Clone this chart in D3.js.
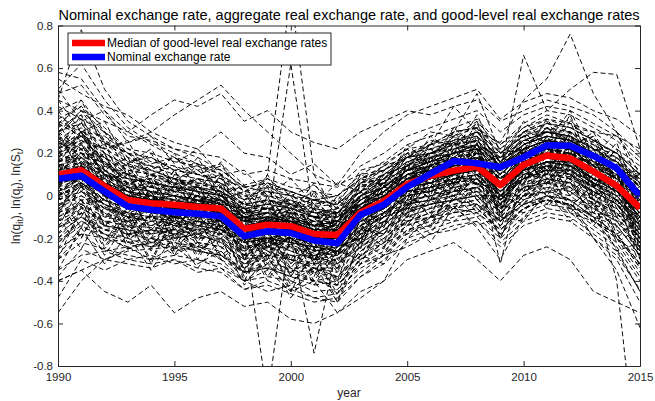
<!DOCTYPE html>
<html>
<head>
<meta charset="utf-8">
<script src="https://cdn.jsdelivr.net/npm/d3@7"></script>
<style>
  body { margin: 0; background: #fff; }
  text { font-family: "Liberation Sans", Arial, Helvetica, sans-serif; fill: #262626; }
</style>
</head>
<body>
<svg id="chart" width="655" height="401"></svg>
<script>
// Years on the horizontal axis
const years = [1990,1991,1992,1993,1994,1995,1996,1997,1998,1999,2000,2001,2002,
               2003,2004,2005,2006,2007,2008,2009,2010,2011,2012,2013,2014,2015];

// Median of the good-level real exchange rates (log)
const medianRer = [.10,.12,.045,-.02,-.035,-.042,-.053,-.06,-.155,-.136,-.143,-.18,-.185,
                   -.078,-.025,.055,.094,.118,.137,.05,.145,.189,.176,.114,.047,-.058];

// Nominal exchange rate (log)
const nominalRate = [.08,.094,.02,-.05,-.066,-.078,-.085,-.097,-.19,-.167,-.175,-.21,-.223,
                     -.089,-.042,.041,.103,.163,.153,.134,.181,.237,.235,.187,.13,-.003];

// Good-level real exchange rates (log), one row per good
const goodRer = [
  [.22,.28,.15,.08,.06,.04,.02,.00,-.08,-.06,-.07,-.12,-.10,-.02,.04,.12,.16,.18,.22,.12,.22,.26,.25,.18,.12,.02],
  [-.02,.04,-.04,-.10,-.12,-.13,-.14,-.16,-.24,-.22,-.23,-.27,-.28,-.18,-.12,-.03,.00,.04,.06,-.04,.06,.10,.09,.02,-.04,-.16],
  [.18,.25,.10,.05,-.06,.02,-.10,.00,-.12,-.20,-.08,-.25,-.12,-.02,.04,.02,.15,.10,.20,.00,.12,.25,.15,.18,.00,-.10],
  [.02,.08,-.02,-.08,-.05,-.12,-.08,-.14,-.20,-.22,-.18,-.24,-.26,-.15,-.10,.00,.02,.08,.06,-.02,.10,.12,.14,.05,.00,-.15],
  [.40,.45,.30,.20,.18,.12,.10,.08,-.02,.04,.00,-.05,-.04,.06,.10,.18,.20,.25,.30,.20,.28,.32,.30,.25,.20,.10],
  [-.20,-.12,-.18,-.22,-.20,-.25,-.22,-.24,-.32,-.30,-.35,-.36,-.38,-.28,-.22,-.12,-.08,-.05,-.04,-.12,-.02,.02,.00,-.08,-.14,-.28],
  [.12,.18,.08,.02,.00,-.02,.00,-.04,-.10,-.12,-.08,-.14,-.12,-.04,.02,.10,.12,.16,.18,.08,.18,.22,.20,.15,.10,.00],
  [.05,.10,.00,-.04,-.08,-.06,-.10,-.08,-.18,-.16,-.20,-.22,-.20,-.10,-.06,.04,.06,.10,.12,.02,.12,.16,.16,.08,.02,-.08],
  [.25,.20,.15,.10,.06,.04,.02,-.02,-.10,-.08,-.10,-.14,-.15,-.06,.00,.08,.14,.16,.20,.10,.20,.24,.22,.16,.10,.02],
  [-.05,.02,-.04,-.10,-.12,-.10,-.14,-.12,-.22,-.24,-.20,-.26,-.28,-.18,-.12,-.02,.00,.04,.06,-.04,.06,.10,.08,.02,-.04,-.18],
  [-.55,-.40,-.30,-.25,-.22,-.20,-.18,-.16,-.25,-.22,-.24,-.28,-.26,-.16,-.10,.00,.02,.06,.08,-.02,.08,.12,.10,.04,-.04,-.20],
  [.50,.62,.45,.32,.25,.20,.15,.10,.02,.00,-.02,-.06,-.08,.00,.04,.12,.16,.20,.24,.14,.22,.26,.24,.18,.12,.02],
  [.15,.10,.05,.00,.02,-.02,-.04,-.06,-.12,-.10,-.12,-.16,-.16,-.06,.00,.08,.10,.12,.16,.06,.16,.20,.18,.10,.06,-.04],
  [-.12,-.06,-.12,-.14,-.15,-.16,-.15,-.18,-.24,-.25,-.24,-.30,-.28,-.20,-.14,-.04,-.02,.02,.04,-.05,.05,.08,.06,.00,-.06,-.18],
  [.32,.38,.25,.18,.14,.12,.10,.08,.00,.02,.00,-.04,-.02,.08,.12,.20,.22,.26,.28,.18,.26,.30,.28,.22,.16,.06],
  [.08,.12,.02,-.04,-.06,-.05,-.08,-.10,-.20,-.95,-.15,-.22,-.20,-.10,-.04,.04,.08,.12,.14,.04,.14,.18,.16,.10,.04,-.08],
  [.00,.05,-.02,-.06,-.08,-.10,-.08,-.12,-.16,-.12,.62,-.10,-.18,-.08,-.04,.06,.08,.10,.14,.04,.12,.16,.14,.08,.02,-.10],
  [.10,.14,.06,.00,-.02,-.04,-.06,-.08,-.18,-.22,-.20,-.74,-.24,-.12,-.06,.04,.06,.10,.12,.02,.12,.16,.14,.08,.02,-.10],
  [.06,.10,.02,-.02,-.04,-.06,-.06,-.08,-.16,-.14,-.16,-.20,-.18,-.06,.00,.10,.14,.20,.30,.25,.45,.55,.76,.48,.30,.10],
  [.14,.18,.10,.04,.02,.00,-.02,-.02,-.10,-.08,-.10,-.14,-.12,.00,.06,.14,.20,.26,.34,.12,.66,.40,.50,.58,.57,.22],
  [.45,.78,.50,.35,.28,.22,.18,.12,.04,.06,.02,-.02,.00,.08,.12,.20,.24,.28,.32,.20,.30,.34,.30,.24,.18,.08],
  [-.30,-.22,-.25,-.28,-.30,-.28,-.30,-.32,-.40,-.38,-.40,-.45,-.44,-.34,-.28,-.18,-.14,-.10,-.08,-.18,-.08,-.04,-.06,-.14,-.22,-.38],
  [.20,.15,.12,.06,.08,.02,.04,-.02,-.06,-.10,-.04,-.10,-.14,-.02,.02,.10,.14,.18,.16,.08,.18,.20,.22,.14,.08,-.02],
  [-.08,-.02,-.08,-.12,-.10,-.14,-.16,-.14,-.26,-.20,-.22,-.24,-.26,-.16,-.10,.02,.04,.06,.10,.00,.08,.14,.12,.06,-.02,-.14],
  [.20,.26,.22,.25,.30,.38,.45,.52,.40,.30,.20,.10,.05,.10,.12,.18,.22,.25,.28,.18,.26,.30,.28,.22,.16,.06],
  [.30,.22,.18,.12,.10,.05,.08,.02,-.04,-.02,-.06,-.08,-.10,.00,.04,.12,.16,.20,.22,.14,.22,.26,.24,.20,.14,.04],
  [-.10,-.05,-.14,-.18,-.20,-.22,-.24,-.26,-.36,-.34,-.38,-.42,-.40,-.30,-.24,-.14,-.10,-.06,-.04,-.14,-.06,-.02,-.04,-.12,-.18,-.32],
  [.08,.14,.06,.02,-.02,-.04,-.04,-.06,-.14,-.12,-.14,-.18,-.16,-.08,-.02,.06,.10,.14,.16,.06,.16,.20,.18,.12,.06,-.06],
  [.00,.06,-.02,-.06,-.06,-.08,-.10,-.10,-.18,-.18,-.18,-.22,-.22,-.12,-.06,.02,.06,.08,.10,.00,.10,.14,.14,.06,.00,-.12],
  [.35,.30,.28,.20,.15,.18,.12,.15,.05,.08,.04,.02,.00,.10,.16,.24,.28,.32,.36,.24,.32,.36,.34,.26,.20,.12],
  [.10,.16,.06,.00,-.02,-.02,-.04,-.04,-.12,-.10,-.12,-.16,-.14,-.04,.02,.12,.18,.30,.48,.20,.28,.30,.26,.18,.10,-.02],
  [-.18,-.10,-.16,-.18,-.16,-.18,-.20,-.20,-.28,-.28,-.28,-.32,-.32,-.22,-.16,-.06,-.04,.00,.02,-.08,.02,.06,.04,-.04,-.10,-.22],
  [.04,.12,.04,-.02,-.02,-.06,-.06,-.10,-.16,-.16,-.16,-.20,-.20,-.10,-.04,.06,.08,.12,.14,.04,.14,.18,.18,.10,.04,-.06],
  [.26,.34,.20,.12,.10,.06,.04,.02,-.06,-.04,-.06,-.10,-.10,.00,.06,.14,.16,.20,.22,.12,.22,.26,.24,.18,.12,.02],
  [.02,.08,.00,-.04,-.06,-.06,-.08,-.08,-.16,-.14,-.16,-.20,-.20,-.08,-.02,.06,.10,.14,.16,-.32,.12,.16,.14,.08,.02,-.10],
  [-.35,-.28,-.26,-.30,-.32,-.30,-.34,-.36,-.44,-.42,-.46,-.50,-.48,-.38,-.32,-.22,-.18,-.14,-.12,-.22,-.12,-.08,-.10,-.18,-.26,-.45],
  [.16,.22,.12,.06,.04,.02,.00,-.02,-.08,-.08,-.08,-.12,-.12,-.02,.04,.12,.14,.18,.20,.10,.20,.24,.22,.16,.10,-.02],
  [.10,.06,.02,-.04,.00,-.06,-.04,-.08,-.14,-.16,-.12,-.18,-.16,-.06,-.02,.08,.10,.14,.16,.06,.18,.20,.20,.12,.06,-.04],
  [.06,.10,.02,-.02,-.04,-.06,-.08,-.08,-.16,-.16,-.16,-.20,-.20,-.12,-.08,-.02,.00,.02,.04,-.06,.00,.02,-.02,-.20,-.35,-.62],
  [.12,.16,.08,.02,.00,-.02,-.02,-.04,-.12,-.10,-.12,-.16,-.16,-.06,.00,.08,.10,.12,.14,.04,.12,.14,.10,.00,-.40,-1.40],
  [.28,.40,.25,.15,.12,.08,.05,.04,-.04,-.02,-.04,-.08,-.08,.02,.08,.16,.20,.24,.26,.16,.24,.28,.26,.20,.14,.04],
  [-.15,-.08,-.14,-.16,-.18,-.16,-.18,-.22,-.30,-.28,-.30,-.34,-.36,-.24,-.18,-.08,-.04,-.02,.00,-.10,.00,.04,.02,-.06,-.12,-.26],
  [.05,.10,.02,-.02,-.04,-.04,-.06,-.06,-.12,.10,.95,.10,-.10,-.04,.00,.08,.12,.14,.16,.06,.16,.20,.18,.12,.06,-.04],
  [.18,.24,.14,.08,.06,.04,.02,.00,-.10,-.06,-.10,-.12,-.14,-.04,.02,.10,.12,.16,.20,.08,.18,.22,.20,.14,.08,-.04],
  [-.04,.00,-.06,-.12,-.10,-.14,-.12,-.16,-.22,-.20,-.22,-.26,-.24,-.14,-.08,.02,.04,.08,.10,-.02,.08,.12,.12,.04,-.02,-.14],
  [-.48,-.30,-.35,-.30,-.28,-.32,-.30,-.34,-.40,-.45,-.42,-.48,-.50,-.38,-.30,-.20,-.16,-.12,-.10,-.20,-.10,-.06,-.08,-.16,-.24,-.40],
  [.36,.42,.32,.22,.20,.16,.14,.10,.02,.04,.02,-.02,.00,.08,.14,.22,.24,.30,.32,.22,.30,.34,.32,.26,.20,.10],
  [.00,.04,-.04,-.08,-.10,-.08,-.12,-.12,-.20,-.18,-.22,-.24,-.24,-.14,-.08,.00,.04,.08,.08,-.02,.08,.12,.12,.04,-.02,-.12],
  [.14,.20,.10,.04,.02,.00,-.02,-.04,-.12,-.10,-.12,-.16,-.14,-.04,.02,.10,.12,.16,.18,.08,.18,.22,.22,.14,.08,-.02],
  [.08,.12,.04,.00,-.02,-.04,-.04,-.06,-.14,-.12,-.12,-.16,-.16,-.04,.04,.14,.24,.42,.30,.16,.24,.28,.26,.20,.12,.00],
  [-.25,-.18,-.20,-.24,-.22,-.26,-.24,-.28,-.36,-.32,-.34,-.40,-.38,-.28,-.20,-.10,-.06,-.04,-.02,-.12,-.04,.00,-.02,-.10,-.18,-.34],
  [.22,.30,.18,.10,.08,.06,.06,.02,-.06,-.04,-.06,-.10,-.08,.02,.08,.16,.18,.22,.24,.14,.24,.28,.26,.20,.14,.06],
  [.06,.08,.00,-.06,-.08,-.10,-.10,-.12,-.20,-.20,-.18,-.24,-.22,-.12,-.06,.04,.06,.10,.12,.00,.10,.14,.12,.06,.00,-.12],
  [.12,.18,.06,.02,-.02,.00,-.04,-.02,-.10,-.14,-.10,-.14,-.16,-.06,.00,.08,.12,.14,.18,.06,.16,.20,.18,.12,.06,-.06],
  [.04,.08,.00,-.04,-.06,-.08,-.08,-.10,-.18,-.16,-.18,-.22,-.22,-.10,-.06,.02,.04,.08,.10,.00,.08,.10,.06,-.10,-.25,-.45],
  [-.08,-.04,-.10,-.12,-.14,-.14,-.16,-.16,-.24,-.22,-.26,-.30,-.30,-.20,-.14,-.04,-.02,.02,.04,-.06,.04,.08,.06,-.02,-.08,-.20],
  [.58,.55,.40,.30,.24,.18,.15,.12,.04,.06,.02,-.02,-.04,.04,.10,.18,.20,.24,.26,.16,.24,.28,.26,.20,.14,.04],
  [.16,.20,.12,.04,.04,.02,.00,-.02,-.10,-.08,-.12,-.14,-.12,-.02,.04,.10,.14,.18,.20,.10,.20,.24,.22,.14,.10,.00],
  [-.02,.02,-.06,-.10,-.10,-.12,-.12,-.14,-.20,-.20,-.20,-.26,-.24,-.14,-.08,.00,.02,.06,.08,-.02,.08,.12,.10,.02,-.04,-.16],
  [.10,.14,.06,.00,-.02,-.04,-.04,-.06,-.14,-.12,-.12,-.18,-.16,-.06,.02,.12,.16,.20,.24,.18,.30,.36,.32,.30,.28,.22],
  [.24,.28,.20,.14,.10,.08,.06,.04,-.04,-.02,-.04,-.08,-.08,.02,.06,.14,.18,.20,.22,.12,.22,.26,.24,.18,.12,.00],
  [-.40,-.35,-.30,-.26,-.25,-.24,-.26,-.28,-.34,-.34,-.36,-.40,-.42,-.32,-.26,-.16,-.12,-.08,-.06,-.16,-.06,-.02,-.04,-.12,-.20,-.36],
  [.02,.06,-.02,-.06,-.04,-.08,-.08,-.10,-.18,-.16,-.18,-.22,-.22,-.10,-.04,.04,.08,.10,.12,.02,.12,.16,.14,.08,.02,-.08],
  [.10,.14,.06,.02,.00,-.04,-.02,-.06,-.12,-.12,-.14,-.18,-.18,-.08,-.02,.06,.10,.12,.14,.04,.14,.18,.18,.10,.06,-.06],
  [.30,.10,.20,-.05,.08,-.12,.06,-.15,-.05,-.25,-.10,-.30,-.15,-.20,.05,-.05,.18,.05,.25,-.05,.20,.10,.28,.05,.15,-.20],
  [-.10,.15,-.15,.05,-.20,.00,-.18,.02,-.30,-.10,-.32,-.15,-.35,-.05,-.15,.10,-.02,.20,.05,.10,.05,.25,.08,.20,-.10,.05],
  [.20,.35,.05,.12,-.10,.10,-.12,.05,-.22,.00,-.25,-.05,-.30,.02,-.10,.15,.00,.25,.10,-.08,.22,.10,.30,.00,.12,-.30],
  [.00,-.15,.10,-.20,.02,-.25,-.05,-.20,-.10,-.35,-.15,-.38,-.12,-.25,.00,-.10,.15,.02,.22,-.12,.18,.05,.22,-.05,.10,-.25],
  [.45,.30,.35,.15,.22,.05,.18,.00,.05,-.12,.02,-.15,.00,-.08,.12,.05,.25,.15,.35,.10,.30,.20,.38,.12,.25,-.05],
  [-.30,-.05,-.25,-.10,-.32,-.08,-.30,-.12,-.40,-.20,-.45,-.25,-.50,-.20,-.25,-.05,-.15,.05,-.08,.00,-.05,.12,-.05,.05,-.20,-.10],
  [.25,.20,.18,.05,.10,.02,.08,.06,-.08,-.02,-.06,-.04,-.12,.05,.06,.18,.16,.25,.20,.18,.22,.32,.26,.24,.12,.08],
  [-.05,.05,-.10,-.08,-.16,-.12,-.18,-.12,-.28,-.20,-.26,-.30,-.24,-.20,-.10,-.06,.02,.00,.08,-.08,.04,.06,.12,-.02,-.06,-.20],
  [.12,.04,.08,-.06,.02,-.10,.00,-.12,-.10,-.22,-.12,-.24,-.16,-.12,.02,.02,.14,.06,.18,.00,.20,.14,.22,.06,.10,-.12],
  [.38,.30,.25,.20,.12,.18,.10,.14,.02,.08,.00,.05,-.04,.12,.15,.22,.30,.28,.35,.22,.32,.38,.34,.30,.22,.14],
  [-.15,-.10,-.18,-.25,-.20,-.28,-.22,-.30,-.36,-.30,-.40,-.34,-.42,-.30,-.22,-.18,-.10,-.12,-.04,-.18,-.06,-.02,-.08,-.12,-.20,-.32],
  [.20,.24,.10,.08,-.02,.04,.00,-.04,-.06,-.12,-.04,-.14,-.08,-.04,.06,.08,.18,.14,.24,.06,.22,.22,.26,.14,.12,-.02],
  [.04,-.02,.00,-.10,-.06,-.12,-.14,-.08,-.22,-.16,-.22,-.20,-.28,-.12,-.10,.02,.02,.10,.06,.02,.08,.16,.10,.08,-.02,-.14],
  [.30,.36,.20,.14,.12,.08,.12,.04,-.02,.02,-.04,-.02,-.06,.06,.14,.18,.26,.24,.30,.16,.30,.30,.36,.22,.20,.06],
  [-.12,-.02,-.14,-.16,-.22,-.18,-.24,-.20,-.32,-.28,-.30,-.36,-.32,-.24,-.16,-.10,-.06,-.02,.00,-.12,.00,.02,.04,-.08,-.10,-.26],
  [.05,.18,.00,.04,-.08,-.02,-.10,-.02,-.20,-.10,-.18,-.14,-.22,-.04,-.06,.10,.06,.16,.12,.08,.12,.22,.14,.14,.02,-.02],
  [.45,.40,.30,.18,.10,.08,.02,.00,-.10,-.12,-.10,-.16,-.20,-.06,.00,.04,.12,.10,.16,.04,.16,.18,.20,.08,.06,-.08],
  [-.28,-.15,-.18,-.20,-.16,-.18,-.14,-.16,-.22,-.20,-.18,-.20,-.16,-.04,.02,.12,.18,.22,.26,.14,.24,.30,.28,.22,.18,.06],
  [.16,.22,.12,.02,.04,.00,-.02,-.06,-.10,-.08,-.12,-.12,-.16,-.02,.04,.12,.12,.18,.20,.10,.20,.26,.22,.18,.08,.00],
  [.00,.06,-.06,-.08,-.14,-.10,-.14,-.16,-.20,-.24,-.20,-.28,-.26,-.18,-.08,-.04,.04,.02,.08,-.04,.10,.10,.08,.02,-.04,-.16],
  [.22,.30,.14,.10,.04,.08,.04,.02,-.04,-.06,-.02,-.10,-.06,.02,.10,.14,.20,.24,.22,.16,.24,.30,.28,.20,.16,.04],
  [-.06,.00,-.08,-.16,-.12,-.18,-.16,-.20,-.26,-.24,-.28,-.28,-.32,-.22,-.12,-.08,-.02,.00,.04,-.08,.02,.08,.04,-.02,-.08,-.22],
  [.14,.10,.06,-.04,-.02,-.08,-.02,-.08,-.14,-.18,-.12,-.20,-.16,-.10,-.04,.08,.08,.14,.16,.02,.18,.18,.20,.10,.06,-.08],
  [.48,.52,.38,.28,.26,.22,.20,.18,.10,.12,.08,.06,.04,.14,.20,.28,.32,.36,.40,.30,.38,.42,.40,.34,.28,.18],
  [-.38,-.25,-.30,-.32,-.34,-.30,-.36,-.34,-.44,-.40,-.44,-.48,-.46,-.36,-.28,-.24,-.18,-.16,-.12,-.24,-.14,-.10,-.12,-.20,-.28,-.44],
  [.08,.16,.02,-.02,-.06,-.04,-.08,-.10,-.14,-.16,-.14,-.20,-.18,-.06,-.02,.06,.10,.10,.16,.04,.14,.20,.16,.12,.04,-.06],
  [.18,.14,.10,.02,.00,-.04,.02,-.06,-.08,-.14,-.08,-.16,-.12,-.06,.02,.06,.14,.12,.20,.06,.20,.20,.24,.12,.10,-.04],
  [-.10,-.04,-.12,-.12,-.18,-.14,-.20,-.18,-.28,-.24,-.30,-.32,-.30,-.18,-.14,-.04,-.02,.04,.02,-.06,.04,.06,.06,-.04,-.08,-.20],
  [.06,.10,.00,-.04,-.06,-.06,-.08,-.08,-.14,-.12,-.12,-.14,-.12,.00,.08,.18,.24,.30,.32,.24,.34,.40,.38,.32,.26,.16],
  [.12,.14,.06,.00,-.02,-.04,-.06,-.06,-.16,-.16,-.16,-.20,-.22,-.14,-.10,-.06,-.04,-.02,.00,-.12,-.04,-.02,-.04,-.10,-.18,-.32],
  [.28,.22,.24,.10,.14,.04,.08,.00,-.04,-.06,-.04,-.10,-.08,.00,.08,.12,.20,.18,.26,.12,.26,.26,.28,.18,.16,.02],
  [-.20,-.08,-.16,-.14,-.22,-.16,-.22,-.24,-.32,-.26,-.34,-.34,-.38,-.26,-.18,-.12,-.08,-.04,-.02,-.14,-.04,.00,-.02,-.10,-.14,-.28],
  [.02,.10,.04,-.06,-.04,-.10,-.06,-.12,-.18,-.14,-.20,-.22,-.20,-.10,-.06,.04,.06,.12,.10,.02,.12,.14,.16,.06,.02,-.10],
  [.34,.28,.22,.16,.14,.10,.08,.06,-.02,.00,-.04,-.06,-.08,.04,.08,.16,.20,.22,.26,.16,.26,.30,.30,.22,.16,.08],
  [.10,.30,.05,.15,-.05,.12,-.08,.10,-.12,.05,-.10,.00,-.15,.08,.05,.22,.10,.30,.18,.15,.20,.35,.20,.28,.05,.10],
  [.00,-.20,.02,-.25,-.08,-.28,-.10,-.30,-.20,-.40,-.22,-.42,-.26,-.30,-.12,-.14,.00,-.06,.06,-.20,.06,-.04,.10,-.14,-.02,-.30],
  [.22,.26,.18,.10,.06,.04,.04,.00,-.08,-.06,-.08,-.10,-.12,-.02,.04,.12,.16,.20,.24,.14,.22,.26,.24,.18,.14,.04],
  [-.14,-.06,-.12,-.18,-.16,-.20,-.18,-.22,-.30,-.26,-.30,-.34,-.34,-.22,-.16,-.08,-.04,-.02,.02,-.10,.00,.06,.02,-.06,-.12,-.24],
  [.06,.12,.02,-.02,-.04,-.06,-.06,-.10,-.14,-.14,-.16,-.18,-.20,-.08,-.04,.04,.08,.12,.12,.04,.12,.18,.14,.10,.02,-.08],
  [.16,.18,.10,.06,.02,.00,-.02,-.02,-.10,-.10,-.10,-.14,-.14,-.04,.02,.10,.12,.16,.18,.08,.18,.22,.20,.14,.08,-.02],
  [-.02,.02,-.04,-.08,-.10,-.10,-.12,-.14,-.22,-.20,-.22,-.24,-.26,-.14,-.08,.00,.04,.06,.08,-.02,.08,.12,.10,.04,-.02,-.14],
  [.30,.34,.26,.16,.18,.12,.14,.08,.04,.02,.00,-.02,-.04,.06,.12,.18,.24,.26,.30,.20,.28,.34,.32,.26,.20,.10],
  [-.22,-.14,-.20,-.22,-.24,-.22,-.26,-.28,-.36,-.34,-.38,-.40,-.42,-.30,-.22,-.14,-.10,-.08,-.06,-.16,-.06,-.02,-.04,-.12,-.18,-.34],
  [.10,.08,.04,-.02,-.02,-.06,-.04,-.08,-.12,-.14,-.14,-.16,-.18,-.08,-.02,.06,.08,.12,.14,.04,.16,.18,.18,.10,.04,-.06],
  [.04,.14,.02,-.04,-.08,-.04,-.10,-.06,-.18,-.14,-.18,-.20,-.18,-.10,-.04,.04,.06,.10,.14,.02,.12,.16,.16,.08,.04,-.10],
  [.20,.28,.16,.08,.06,.02,.04,.00,-.06,-.06,-.08,-.10,-.12,.00,.04,.12,.14,.20,.22,.12,.22,.24,.24,.16,.12,.02],
  [.30,.40,.35,.30,.38,.45,.42,.48,.35,.40,.30,.25,.22,.30,.35,.40,.38,.42,.45,.35,.40,.45,.42,.38,.30,.20],
  [-.40,-.35,-.45,-.50,-.42,-.55,-.48,-.45,-.52,-.50,-.58,-.60,-.55,-.45,-.40,-.30,-.26,-.22,-.30,-.40,-.28,-.24,-.30,-.45,-.50,-.55],
  [.00,.10,-.05,-.10,-.20,-.15,-.25,-.30,-.40,-.35,-.45,-.40,-.55,-.48,-.40,-.20,-.10,-.05,-.15,-.30,-.10,.00,-.05,-.20,-.30,-.50],
  [.55,.48,.42,.38,.30,.25,.22,.30,.20,.18,.10,.15,.05,.20,.30,.38,.42,.46,.50,.36,.44,.48,.46,.40,.36,.28],
  [.15,.30,.08,.10,-.08,.05,-.12,.02,-.25,-.05,-.22,-.10,-.28,.00,-.08,.15,.02,.22,.08,.12,.06,.28,.10,.22,-.04,.00],
  [.35,.15,.25,.00,.10,-.10,.05,-.15,-.02,-.22,-.05,-.25,-.08,-.18,.08,-.02,.20,.06,.28,-.02,.25,.12,.30,.04,.18,-.15],
  [-.15,.05,-.22,-.05,-.25,-.05,-.22,-.02,-.35,-.12,-.38,-.18,-.40,-.10,-.22,.02,-.10,.15,-.02,.05,-.02,.20,.00,.15,-.15,-.05],
  [.05,-.10,.12,-.15,.05,-.20,.02,-.18,-.05,-.30,-.08,-.32,-.05,-.22,.05,-.08,.18,.05,.25,-.10,.22,.08,.25,-.02,.15,-.22],
  [.40,.25,.30,.10,.20,.02,.15,-.02,.02,-.15,.00,-.18,-.02,-.10,.10,.02,.22,.12,.32,.08,.28,.18,.35,.10,.22,-.10],
  [-.25,-.08,-.28,-.12,-.30,-.10,-.28,-.14,-.38,-.22,-.42,-.28,-.46,-.22,-.28,-.08,-.18,.00,-.10,-.04,-.08,.08,-.08,.02,-.22,-.15],
  [.22,.38,.12,.18,-.02,.12,-.05,.10,-.15,.04,-.18,.02,-.20,.06,-.02,.20,.08,.28,.16,.18,.14,.32,.16,.26,.04,.06],
  [-.05,-.20,.00,-.18,-.02,-.22,-.08,-.25,-.15,-.32,-.18,-.36,-.20,-.28,-.08,-.12,.04,-.02,.10,-.15,.10,.00,.14,-.08,.04,-.28],
  [.10,.22,.00,.06,-.12,.00,-.15,-.04,-.28,-.10,-.30,-.14,-.32,-.06,-.14,.08,-.02,.18,.04,.06,.02,.24,.06,.18,-.06,-.02],
  [.28,.12,.20,-.02,.06,-.14,.02,-.16,-.08,-.28,-.12,-.30,-.14,-.22,.02,-.06,.14,.02,.22,-.08,.18,.06,.24,.00,.12,-.24],
  [.50,.35,.40,.25,.28,.15,.22,.10,.12,.00,.08,-.04,.06,.02,.15,.12,.28,.20,.38,.15,.35,.25,.40,.18,.30,.05],
  [-.35,-.15,-.32,-.18,-.35,-.18,-.34,-.20,-.42,-.28,-.48,-.32,-.50,-.28,-.32,-.12,-.22,-.05,-.14,-.10,-.12,.02,-.12,-.04,-.26,-.22],
  [.08,.25,.02,.10,-.06,.06,-.08,.04,-.20,-.02,-.20,-.06,-.24,.02,-.06,.14,.04,.22,.10,.12,.08,.26,.12,.20,.00,.04],
  [.18,.02,.14,-.08,.02,-.16,-.02,-.18,-.12,-.30,-.14,-.32,-.16,-.24,-.02,-.10,.10,-.02,.18,-.10,.14,.02,.20,-.04,.08,-.26],
  [.00,.12,-.10,.00,-.16,-.06,-.20,-.08,-.30,-.16,-.34,-.20,-.36,-.14,-.18,.00,-.06,.10,.00,.00,.00,.16,.02,.10,-.10,-.08],
  [.32,.45,.22,.26,.06,.20,.02,.16,-.06,.10,-.08,.06,-.10,.10,.04,.24,.14,.32,.22,.22,.20,.36,.22,.30,.10,.12],
  [-.18,-.02,-.24,-.08,-.26,-.06,-.24,-.08,-.36,-.16,-.38,-.22,-.42,-.16,-.24,-.04,-.14,.06,-.06,.00,-.04,.12,-.06,.06,-.18,-.12],
  [.12,.05,.02,.00,-.04,-.10,.00,-.12,-.08,-.24,-.10,-.26,-.12,-.16,.00,-.04,.14,.06,.22,-.04,.20,.12,.24,.04,.14,-.18],
  [.25,.32,.15,.14,.00,.08,-.04,.06,-.12,.00,-.14,-.04,-.16,.00,-.02,.16,.08,.24,.14,.14,.12,.28,.14,.22,.04,.02],
  [-.10,-.25,-.05,-.22,-.08,-.26,-.12,-.28,-.20,-.38,-.22,-.40,-.24,-.32,-.12,-.18,-.02,-.08,.04,-.20,.04,-.06,.08,-.12,.00,-.34],
  [.18,.30,.12,.04,.06,-.04,.00,-.06,-.14,-.08,-.16,-.12,-.20,-.04,.00,.10,.08,.18,.16,.06,.18,.24,.18,.16,.04,-.04],
  [.02,-.04,-.02,-.12,-.06,-.16,-.10,-.18,-.20,-.26,-.20,-.30,-.24,-.20,-.08,-.06,.06,.00,.12,-.06,.12,.06,.14,.00,.04,-.20],
  [.42,.36,.30,.22,.16,.14,.10,.06,.00,-.04,-.02,-.08,-.06,.02,.10,.14,.22,.20,.28,.14,.28,.26,.30,.20,.18,.04],
  [-.22,-.12,-.16,-.20,-.24,-.18,-.26,-.20,-.34,-.28,-.36,-.30,-.40,-.26,-.20,-.12,-.10,-.02,-.04,-.12,-.02,.04,-.02,-.04,-.16,-.24],
  [.10,.20,.04,.02,-.06,-.02,-.08,-.04,-.18,-.10,-.18,-.14,-.22,-.08,-.02,.08,.06,.16,.12,.06,.14,.22,.14,.14,.02,-.06],
  [.26,.18,.16,.06,.08,.00,.04,-.04,-.06,-.12,-.06,-.16,-.10,-.06,.06,.06,.18,.12,.24,.06,.22,.18,.26,.10,.14,-.06],
  [-.08,.08,-.14,-.06,-.18,-.08,-.20,-.10,-.30,-.18,-.32,-.22,-.34,-.16,-.18,-.02,-.08,.08,-.02,.00,.00,.14,.00,.08,-.12,-.10],
  [.14,.06,.10,-.02,.00,-.08,-.02,-.10,-.10,-.18,-.10,-.20,-.12,-.14,.00,.00,.12,.04,.18,-.02,.16,.10,.20,.04,.10,-.14],
  [.34,.42,.26,.20,.10,.14,.06,.10,-.02,.06,-.04,.02,-.06,.06,.08,.20,.16,.28,.22,.20,.22,.32,.24,.28,.12,.10],
  [-.30,-.18,-.26,-.24,-.30,-.24,-.32,-.26,-.40,-.32,-.44,-.36,-.46,-.32,-.28,-.16,-.14,-.06,-.08,-.16,-.06,.00,-.06,-.08,-.20,-.28]
];

const xTicks = [1990, 1995, 2000, 2005, 2010, 2015];
const yTicks = [-0.8, -0.6, -0.4, -0.2, 0, 0.2, 0.4, 0.6, 0.8];
const legendLabels = ["Median of good-level real exchange rates", "Nominal exchange rate"];
const seriesColors = ["#ff0000", "#0000ff"];

const svg = d3.select("#chart");
const plot = { left: 58, right: 640, top: 25.5, bottom: 366 };

const x = d3.scaleLinear().domain([1990, 2015]).range([plot.left, plot.right]);
const y = d3.scaleLinear().domain([-0.8, 0.8]).range([plot.bottom, plot.top]);

svg.append("rect").attr("width", 655).attr("height", 401).attr("fill", "#fff");

svg.append("defs").append("clipPath").attr("id", "plotClip")
  .append("rect")
  .attr("x", plot.left).attr("y", plot.top)
  .attr("width", plot.right - plot.left).attr("height", plot.bottom - plot.top);

const line = d3.line().x((d, i) => x(years[i])).y(d => y(d));

const lines = svg.append("g").attr("clip-path", "url(#plotClip)");

// good-level series, thin dashed black
lines.append("g").selectAll("path")
  .data(goodRer)
  .join("path")
  .attr("d", line)
  .attr("fill", "none")
  .attr("stroke", "#000")
  .attr("stroke-width", 0.95)
  .attr("stroke-dasharray", "5,3");

// median and nominal, thick solid
[medianRer, nominalRate].forEach((s, k) => {
  lines.append("path")
    .attr("d", line(s))
    .attr("fill", "none")
    .attr("stroke", seriesColors[k])
    .attr("stroke-width", 6.5)
    .attr("stroke-linejoin", "round");
});

// axes with inward ticks on all four sides
const axisColor = "#262626";
function styleAxis(g) {
  g.select(".domain").attr("stroke", axisColor).attr("stroke-width", 1);
  g.selectAll(".tick line").attr("stroke", axisColor).attr("stroke-width", 1);
  g.selectAll(".tick text").attr("fill", axisColor).style("font-size", "11.5px")
    .style("font-family", '"Liberation Sans", Arial, Helvetica, sans-serif');
}
const fmt = d => String(d);

svg.append("g").attr("transform", `translate(0,${plot.bottom})`)
  .call(d3.axisBottom(x).tickValues(xTicks).tickFormat(fmt).tickSize(-5).tickSizeOuter(0).tickPadding(6.5))
  .call(styleAxis);
svg.append("g").attr("transform", `translate(0,${plot.top})`)
  .call(d3.axisTop(x).tickValues(xTicks).tickFormat("").tickSize(-5).tickSizeOuter(0))
  .call(styleAxis);
svg.append("g").attr("transform", `translate(${plot.left},0)`)
  .call(d3.axisLeft(y).tickValues(yTicks).tickFormat(fmt).tickSize(-5).tickSizeOuter(0).tickPadding(5))
  .call(styleAxis);
svg.append("g").attr("transform", `translate(${plot.right},0)`)
  .call(d3.axisRight(y).tickValues(yTicks).tickFormat("").tickSize(-5).tickSizeOuter(0))
  .call(styleAxis);

// title
svg.append("text")
  .attr("x", (plot.left + plot.right) / 2).attr("y", 20)
  .attr("text-anchor", "middle")
  .style("font-size", "14.5px")
  .style("fill", "#000")
  .text("Nominal exchange rate, aggregate real exchange rate, and good-level real exchange rates");

// x label
svg.append("text")
  .attr("x", (plot.left + plot.right) / 2).attr("y", 397)
  .attr("text-anchor", "middle")
  .style("font-size", "12px")
  .text("year");

// y label with subscripts
const yl = svg.append("text")
  .attr("transform", `translate(20,${(plot.top + plot.bottom) / 2}) rotate(-90)`)
  .attr("text-anchor", "middle")
  .style("font-size", "12px");
const parts = [["ln(q", ""], ["it", "sub"], ["), ln(q", ""], ["t", "sub"], ["), ln(S", ""], ["t", "sub"], [")", ""]];
parts.forEach(([t, kind]) => {
  const ts = yl.append("tspan").text(t);
  if (kind === "sub") ts.attr("dy", 3).style("font-size", "9px");
  else if (t !== "ln(q") ts.attr("dy", -3);
});

// legend
const lg = svg.append("g");
lg.append("rect")
  .attr("x", 68).attr("y", 33).attr("width", 263).attr("height", 32)
  .attr("fill", "#fff").attr("stroke", axisColor).attr("stroke-width", 1);
legendLabels.forEach((lab, k) => {
  const yy = 43 + k * 14;
  lg.append("line")
    .attr("x1", 72).attr("x2", 105).attr("y1", yy).attr("y2", yy)
    .attr("stroke", seriesColors[k]).attr("stroke-width", 6.5);
  lg.append("text")
    .attr("x", 107).attr("y", yy + 4.2)
    .style("font-size", "12px")
    .style("fill", "#000")
    .text(lab);
});
</script>
</body>
</html>
